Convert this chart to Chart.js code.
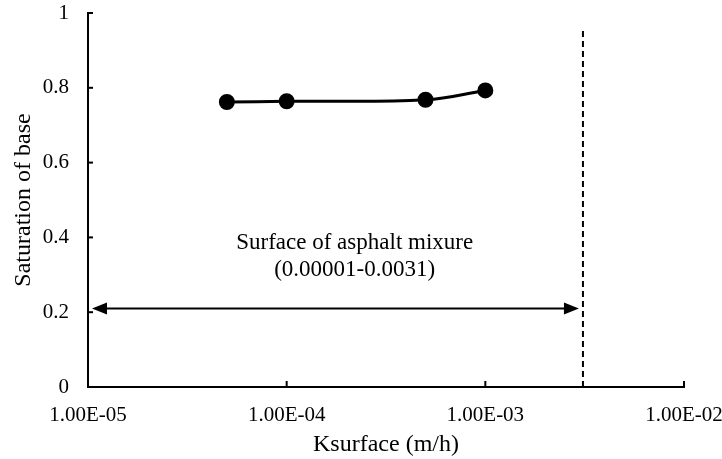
<!DOCTYPE html>
<html>
<head>
<meta charset="utf-8">
<script src="https://cdn.jsdelivr.net/npm/chart.js@4"></script>
<style>
  body { margin: 0; background: #fff; }
  #wrap { width: 722px; height: 459px; }
</style>
</head>
<body>
<div id="wrap"><canvas id="grafico"></canvas></div>
<script>
// Ksurface (m/h) vs saturation of base
const ksurface = [5e-5, 1e-4, 5e-4, 1e-3];
const saturation = [0.762, 0.764, 0.768, 0.793];
const xTicks = [1e-5, 1e-4, 1e-3, 1e-2];
const yTicks = [0, 0.2, 0.4, 0.6, 0.8, 1];

// range of the asphalt surface
const rangeMin = 0.00001;
const rangeMax = 0.0031;
const arrowLevel = 0.21;
const limitTop = 0.955;
const rangeLabel = ["Surface of asphalt mixure", "(0.00001-0.0031)"];
const labelX = 2.2e-4;
const labelY = [0.385, 0.312];

const FONT = "'Liberation Serif', 'Times New Roman', serif";

function sci(v) {
    const parts = v.toExponential(2).split("e");
    let exp = parseInt(parts[1], 10);
    const sign = exp < 0 ? "-" : "+";
    exp = Math.abs(exp);
    return parts[0] + "E" + sign + (exp < 10 ? "0" + exp : exp);
}

// inward tick marks, arrow and text
const extras = {
    id: "extras",
    afterDatasetsDraw(chart) {
        const ctx = chart.ctx;
        const x = chart.scales.x, y = chart.scales.y;
        const area = chart.chartArea;
        ctx.save();
        ctx.strokeStyle = "#000";
        ctx.fillStyle = "#000";
        ctx.lineWidth = 2;

        yTicks.forEach(function (v) {
            const py = y.getPixelForValue(v);
            ctx.beginPath();
            ctx.moveTo(area.left, py);
            ctx.lineTo(area.left + 5, py);
            ctx.stroke();
        });
        xTicks.forEach(function (v) {
            const px = x.getPixelForValue(v);
            ctx.beginPath();
            ctx.moveTo(px, area.bottom);
            ctx.lineTo(px, area.bottom - 6);
            ctx.stroke();
        });

        // double arrow
        const ay = y.getPixelForValue(arrowLevel);
        const x1 = x.getPixelForValue(rangeMin) + 4;
        const x2 = x.getPixelForValue(rangeMax) - 4;
        ctx.beginPath();
        ctx.moveTo(x1 + 10, ay);
        ctx.lineTo(x2 - 10, ay);
        ctx.stroke();
        ctx.beginPath();
        ctx.moveTo(x1, ay);
        ctx.lineTo(x1 + 15, ay - 6);
        ctx.lineTo(x1 + 15, ay + 6);
        ctx.closePath();
        ctx.fill();
        ctx.beginPath();
        ctx.moveTo(x2, ay);
        ctx.lineTo(x2 - 15, ay - 6);
        ctx.lineTo(x2 - 15, ay + 6);
        ctx.closePath();
        ctx.fill();

        ctx.font = "23px " + FONT;
        ctx.textAlign = "center";
        ctx.textBaseline = "middle";
        rangeLabel.forEach(function (t, i) {
            ctx.fillText(t, x.getPixelForValue(labelX), y.getPixelForValue(labelY[i]));
        });
        ctx.restore();
    }
};

new Chart(document.getElementById("grafico"), {
    type: "line",
    data: {
        datasets: [{
            label: "Saturation",
            data: ksurface.map(function (k, i) { return { x: k, y: saturation[i] }; }),
            borderColor: "#000",
            backgroundColor: "#000",
            borderWidth: 3,
            pointRadius: 6.5,
            pointHoverRadius: 6.5,
            tension: 0.4,
            fill: false
        }, {
            label: "Limit",
            data: [{ x: rangeMax, y: 0 }, { x: rangeMax, y: limitTop }],
            borderColor: "#000",
            borderWidth: 2,
            borderDash: [6, 4],
            pointRadius: 0,
            fill: false
        }]
    },
    options: {
        responsive: true,
        maintainAspectRatio: false,
        animation: false,
        layout: { padding: { top: 13, right: 38, left: 0, bottom: 0 } },
        plugins: {
            legend: { display: false },
            tooltip: { enabled: false }
        },
        scales: {
            x: {
                type: "logarithmic",
                min: 1e-5,
                max: 1e-2,
                afterBuildTicks: function (scale) {
                    scale.ticks = xTicks.map(function (v) { return { value: v }; });
                },
                afterFit: function (scale) {
                    scale.height = 72;
                    scale.paddingLeft = 0;
                    scale.paddingRight = 0;
                },
                grid: { display: false },
                border: { display: true, color: "#000", width: 2 },
                ticks: {
                    padding: 8,
                    maxRotation: 0,
                    color: "#000",
                    font: { family: FONT, size: 21 },
                    callback: function (v) { return sci(v); }
                },
                title: {
                    display: true,
                    text: "Ksurface (m/h)",
                    color: "#000",
                    font: { family: FONT, size: 24 },
                    padding: { top: 0, bottom: 0 }
                }
            },
            y: {
                min: 0,
                max: 1,
                afterBuildTicks: function (scale) {
                    scale.ticks = yTicks.map(function (v) { return { value: v }; });
                },
                afterFit: function (scale) {
                    scale.width = 88;
                    scale.paddingTop = 0;
                    scale.paddingBottom = 0;
                },
                grid: { display: false },
                border: { display: true, color: "#000", width: 2 },
                ticks: {
                    padding: 11,
                    color: "#000",
                    font: { family: FONT, size: 21 },
                    callback: function (v) { return String(v); }
                },
                title: {
                    display: true,
                    text: "Saturation of base",
                    color: "#000",
                    font: { family: FONT, size: 24 },
                    padding: { top: 9, bottom: 0 }
                }
            }
        }
    },
    plugins: [extras]
});
</script>
</body>
</html>
